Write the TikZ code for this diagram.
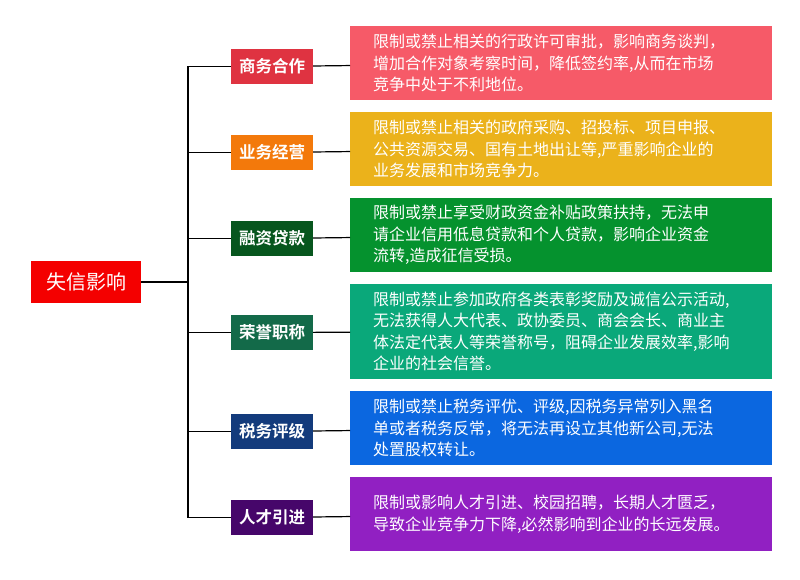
\documentclass[tikz,border=0pt]{standalone}
\usepackage{fontspec}
\setmainfont{Noto Sans CJK SC}
\newfontfamily\cjkbold{Noto Sans CJK SC Bold}
\definecolor{rootred}{HTML}{F40000}
\definecolor{cA}{HTML}{DF3341}\definecolor{dA}{HTML}{F65A68}
\definecolor{cB}{HTML}{F3790B}\definecolor{dB}{HTML}{EBB21B}
\definecolor{cC}{HTML}{07561E}\definecolor{dC}{HTML}{05922E}
\definecolor{cD}{HTML}{136A49}\definecolor{dD}{HTML}{0AA87A}
\definecolor{cE}{HTML}{133B7C}\definecolor{dE}{HTML}{0B67E0}
\definecolor{cF}{HTML}{46066A}\definecolor{dF}{HTML}{9120C2}
\begin{document}
\begin{tikzpicture}[x=1pt, y=-1pt]

      \tikzstyle{root_style} = [fill=rootred, text=white, minimum width=110pt, minimum height=42pt, inner sep=0pt, font=\fontsize{20}{24}\selectfont]
      \tikzstyle{cat_style} = [text=white, minimum width=82pt, minimum height=35pt, inner sep=0pt, font=\cjkbold\fontsize{16.5}{20}\selectfont]
      \tikzstyle{desc_style} = [text=white, minimum width=422pt, inner sep=0pt, anchor=west, text width=400pt, align=left, font=\fontsize{16}{21.5}\selectfont]

            \useasboundingbox (0,0) rectangle (800,580);
            \draw
              (86, 282) node[root_style] (0){失信影响}
              (272, 66.5) node[cat_style, fill=cA] (1){商务合作}
              (272, 152.5) node[cat_style, fill=cB] (2){业务经营}
              (272, 238.5) node[cat_style, fill=cC] (3){融资贷款}
              (272, 332.5) node[cat_style, fill=cD] (4){荣誉职称}
              (272, 431.5) node[cat_style, fill=cE] (5){税务评级}
              (272, 517.5) node[cat_style, fill=cF] (6){人才引进}
              (350, 63) node[desc_style, fill=dA, minimum height=74pt] (7){\hspace*{12pt}限制或禁止相关的行政许可审批，影响商务谈判，\\\hspace*{12pt}增加合作对象考察时间，降低签约率,从而在市场\\\hspace*{12pt}竞争中处于不利地位。}
              (350, 149) node[desc_style, fill=dB, minimum height=74pt] (8){\hspace*{12pt}限制或禁止相关的政府采购、招投标、项目申报、\\\hspace*{12pt}公共资源交易、国有土地出让等,严重影响企业的\\\hspace*{12pt}业务发展和市场竞争力。}
              (350, 235) node[desc_style, fill=dC, minimum height=74pt] (9){\hspace*{12pt}限制或禁止享受财政资金补贴政策扶持，无法申\\\hspace*{12pt}请企业信用低息贷款和个人贷款，影响企业资金\\\hspace*{12pt}流转,造成征信受损。}
              (350, 331.5) node[desc_style, fill=dD, minimum height=95pt] (10){\hspace*{12pt}限制或禁止参加政府各类表彰奖励及诚信公示活动,\\\hspace*{12pt}无法获得人大代表、政协委员、商会会长、商业主\\\hspace*{12pt}体法定代表人等荣誉称号，阻碍企业发展效率,影响\\\hspace*{12pt}企业的社会信誉。}
              (350, 428) node[desc_style, fill=dE, minimum height=74pt] (11){\hspace*{12pt}限制或禁止税务评优、评级,因税务异常列入黑名\\\hspace*{12pt}单或者税务反常，将无法再设立其他新公司,无法\\\hspace*{12pt}处置股权转让。}
              (350, 514) node[desc_style, fill=dF, minimum height=74pt] (12){\hspace*{12pt}限制或影响人才引进、校园招聘，长期人才匮乏，\\\hspace*{12pt}导致企业竞争力下降,必然影响到企业的长远发展。};

            \coordinate (t) at (188, 282);
            \coordinate (t1) at (188, 66.5);
            \coordinate (t6) at (188, 517.5);

      \begin{scope}[-, line width=1.2pt]
        \draw (0) -- (t);
        \draw (t1) -- (t6);
        \foreach \c in {1,...,6} {
          \draw (188, 0 |- \c) -- (\c);
        }
        \draw (1) -- (7);
        \draw (2) -- (8);
        \draw (3) -- (9);
        \draw (4) -- (10);
        \draw (5) -- (11);
        \draw (6) -- (12);
      \end{scope}
    \end{tikzpicture}
\end{document}
